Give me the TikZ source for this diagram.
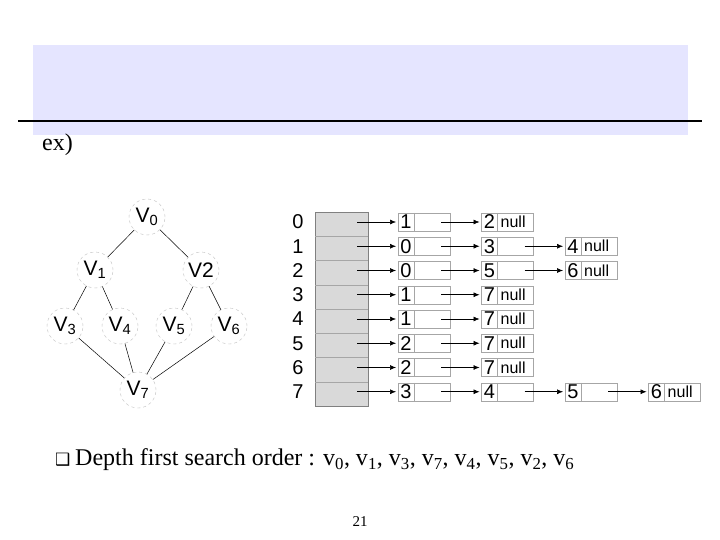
\documentclass[tikz,border=0pt]{standalone}
\usepackage{fontspec}
\setsansfont{Liberation Sans}
\setmainfont{Liberation Serif}
\newfontfamily\djv{DejaVu Sans}
\usetikzlibrary{arrows.meta}
\begin{document}
\begin{tikzpicture}[x=1pt,y=-1pt,
  vtx/.style={circle,draw=gray!50,dashed,minimum size=36pt,inner sep=0pt,font=\sffamily\fontsize{21}{21}\selectfont},
  edge/.style={black,line width=0.5pt},
  cellbox/.style={draw=gray!70,line width=0.5pt},
  lbl/.style={font=\sffamily\fontsize{20}{20}\selectfont,anchor=center,inner sep=0pt},
  arr/.style={-{Latex[length=6pt,width=5pt]},line width=0.6pt}]
\useasboundingbox (0,0) rectangle (720,540);
\fill[white] (0,0) rectangle (720,540);
\fill[blue!10!white] (33,45) rectangle (688,135);
\draw[line width=2.5pt] (18,121) -- (702,121);
\node[anchor=west,font=\fontsize{24}{24}\selectfont,inner sep=0pt] (ex) at (42,145) {ex)};
% graph
\node[vtx] (v0) at (147,217) {V\textsubscript{0}};
\node[vtx] (v1) at (95,270) {V\textsubscript{1}};
\node[vtx] (v2) at (201,270) {V2};
\node[vtx] (v3) at (65,326) {V\textsubscript{3}};
\node[vtx] (v4) at (120,326) {V\textsubscript{4}};
\node[vtx] (v5) at (174,326) {V\textsubscript{5}};
\node[vtx] (v6) at (229,326) {V\textsubscript{6}};
\node[vtx] (v7) at (138,390) {V\textsubscript{7}};
\foreach \a/\b in {v0/v1,v0/v2,v1/v3,v1/v4,v2/v5,v2/v6,v3/v7,v4/v7,v5/v7,v6/v7}
  \draw[edge] (\a) -- (\b);
% array
\fill[gray!30] (315,212) rectangle (368,406);
\draw[gray] (315,212) rectangle (368,406);
\foreach \i in {1,...,7} \draw[gray!70] (315,{212+24.25*\i}) -- (368,{212+24.25*\i});
\foreach \i in {0,...,7} {
  \node[lbl] (n\i) at (298,{222+24.25*\i}) {\i};
  \coordinate (s\i) at (357,{222+24.25*\i});
}
\newcommand{\cellat}[4]{%
  \pgfmathsetmacro{\cx}{398+83.5*(#2)}%
  \pgfmathsetmacro{\cy}{222+24.25*(#1)}%
  \draw[cellbox] (\cx,\cy-9) rectangle (\cx+52,\cy+9);
  \draw[cellbox] (\cx+16,\cy-9) -- (\cx+16,\cy+9);
  \node[lbl] (c#1#2) at (\cx+8,\cy) {#3};
  \node[lbl,anchor=west] (d#1#2) at (\cx+19,\cy) {\fontsize{16}{16}\selectfont #4};
  \coordinate (o#1#2) at (\cx+43,\cy);
  \coordinate (i#1#2) at (\cx-2,\cy);
}
\cellat{0}{0}{1}{}\cellat{0}{1}{2}{null}
\cellat{1}{0}{0}{}\cellat{1}{1}{3}{}\cellat{1}{2}{4}{null}
\cellat{2}{0}{0}{}\cellat{2}{1}{5}{}\cellat{2}{2}{6}{null}
\cellat{3}{0}{1}{}\cellat{3}{1}{7}{null}
\cellat{4}{0}{1}{}\cellat{4}{1}{7}{null}
\cellat{5}{0}{2}{}\cellat{5}{1}{7}{null}
\cellat{6}{0}{2}{}\cellat{6}{1}{7}{null}
\cellat{7}{0}{3}{}\cellat{7}{1}{4}{}\cellat{7}{2}{5}{}\cellat{7}{3}{6}{null}
\foreach \i in {0,...,7} \draw[arr] (s\i) -- (i\i0);
\foreach \i in {0,...,7} \draw[arr] (o\i0) -- (i\i1);
\draw[arr] (o11) -- (i12);
\draw[arr] (o21) -- (i22);
\draw[arr] (o71) -- (i72);
\draw[arr] (o72) -- (i73);
% text
\node[anchor=west,inner sep=0pt] (bul) at (55,460) {\djv\fontsize{17}{17}\selectfont ❑};
\node[anchor=west,inner sep=0pt,font=\fontsize{24}{24}\selectfont] (dfs) at (75,460)
  {Depth first search order : v\textsubscript{0}, v\textsubscript{1}, v\textsubscript{3}, v\textsubscript{7}, v\textsubscript{4}, v\textsubscript{5}, v\textsubscript{2}, v\textsubscript{6}};
\node[font=\fontsize{15}{15}\selectfont,inner sep=0pt] (pg) at (360,522) {21};
\end{tikzpicture}
\end{document}
